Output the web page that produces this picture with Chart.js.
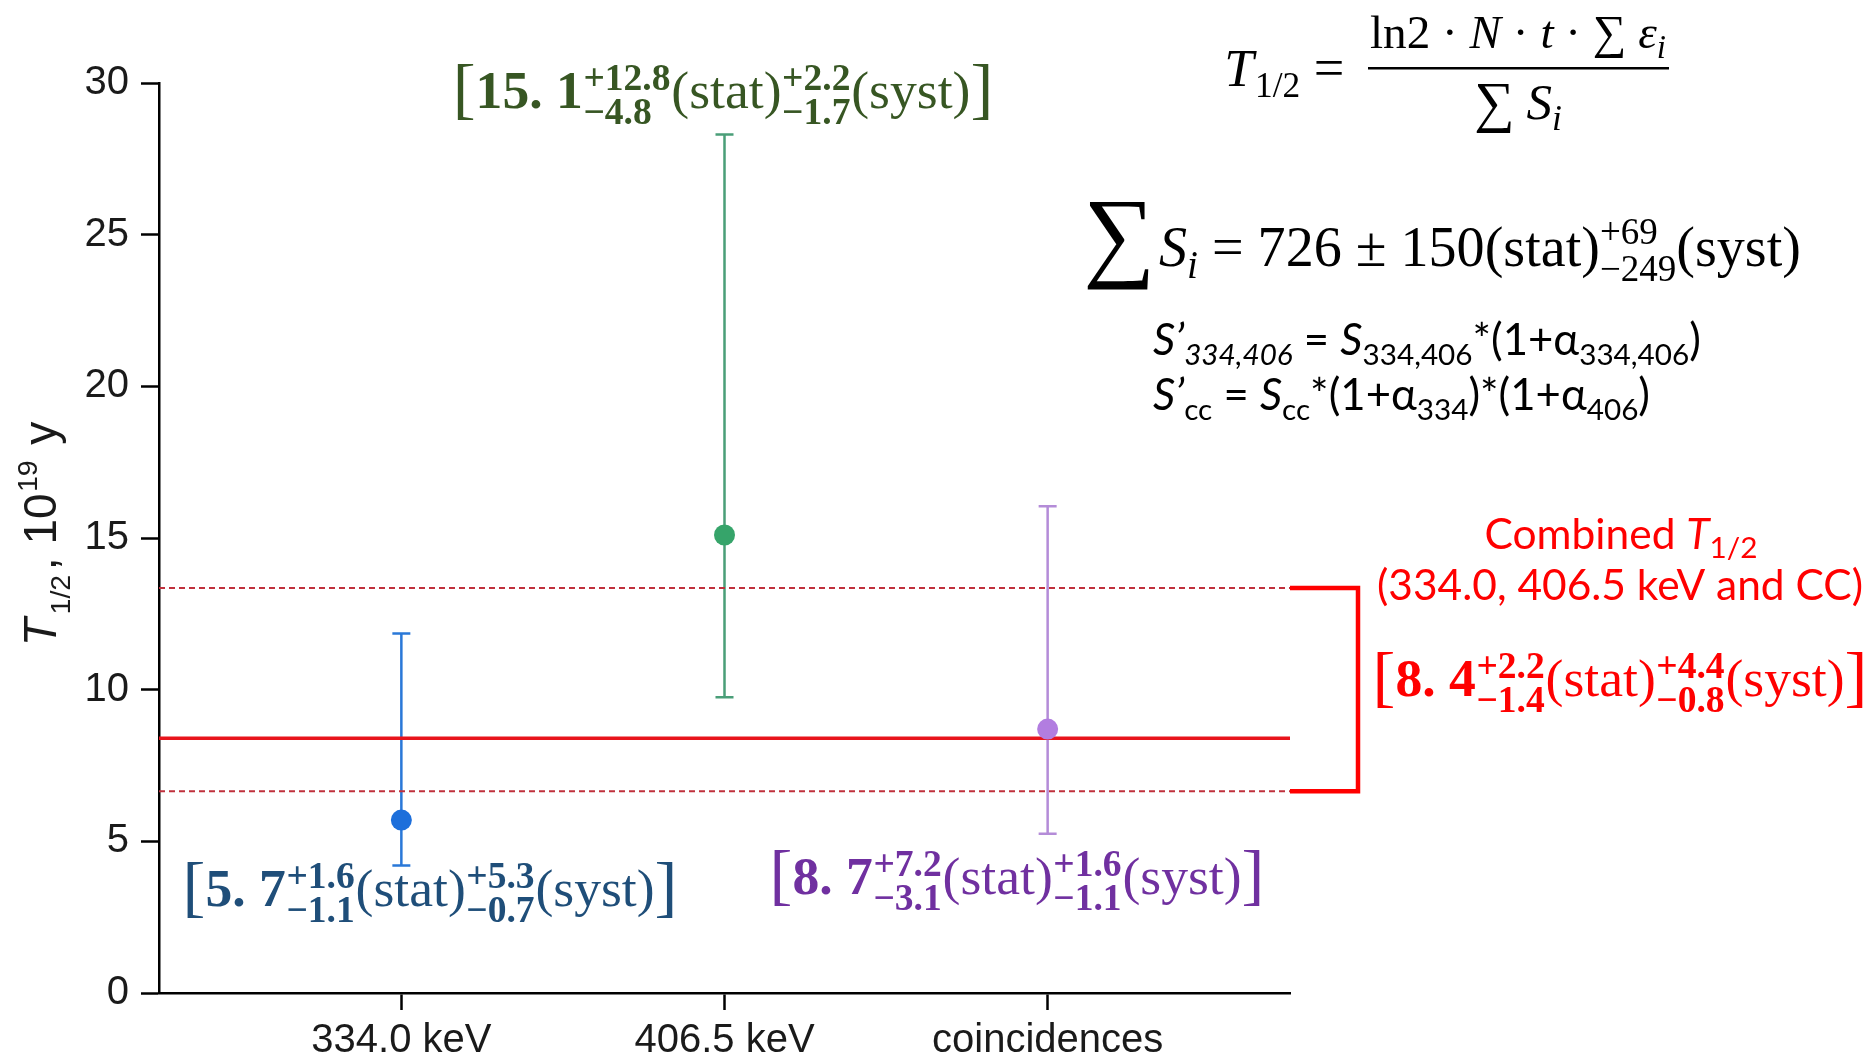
<!DOCTYPE html>
<html>
<head>
<meta charset="utf-8">
<script src="https://cdn.jsdelivr.net/npm/chart.js@4.4.1/dist/chart.umd.min.js"></script>
<style>
  html, body { margin: 0; padding: 0; background: #ffffff; overflow: hidden; }
  #wrap { width: 1873px; height: 1059px; }
</style>
</head>
<body>
<div id="wrap"><canvas id="c" width="1873" height="1059"></canvas></div>
<script>
// Half-life results per detection channel (units of 10^19 y)
const categories = ['334.0 keV', '406.5 keV', 'coincidences'];
const halfLife   = [5.7, 15.1, 8.7];
const errLow     = [4.2, 9.75, 5.25];   // lower end of each error bar
const errHigh    = [11.85, 28.3, 16.05]; // upper end of each error bar
const statPlus   = ['1.6', '12.8', '7.2'];
const statMinus  = ['1.1', '4.8', '3.1'];
const systPlus   = ['5.3', '2.2', '1.6'];
const systMinus  = ['0.7', '1.7', '1.1'];

// Combined result and its band
const combinedValue = [8.4];
const combinedBand  = [6.65, 13.35];
const combinedErr   = ['2.2', '1.4', '4.4', '0.8']; // stat+, stat-, syst+, syst-

const yTicks = [0, 5, 10, 15, 20, 25, 30];

// Styling
const pointColors = ['#1d6fdb', '#36a46a', '#b27de0'];
const barColors   = ['#2a78d8', '#4a9e78', '#b48cd8'];
const labelColors = ['#1f4e79', '#375623', '#7030a0'];
const RED = '#ff0000';
const X_MIN = 0.25, X_MAX = 3.75;

const SERIF = '"Liberation Serif", "DejaVu Serif", serif';
const SANS  = 'Lato, "Noto Sans", "Open Sans", sans-serif';
const ARIAL = '"Liberation Sans", Arial, sans-serif';

// ---- small rich-text helper (sub/superscripts on canvas) ----
function fontOf(size, p) {
  return (p.i ? 'italic ' : '') + (p.b ? 'bold ' : '') + size.toFixed(2) + 'px ' + (p.fam || SERIF);
}
function measureRich(ctx, items, base) {
  let w = 0;
  for (const it of items) {
    ctx.font = fontOf(base * (it.k || 1), it);
    if (it.sup !== undefined || it.sub !== undefined) {
      const a = it.sup ? ctx.measureText(it.sup).width : 0;
      const b = it.sub ? ctx.measureText(it.sub).width : 0;
      it._w = Math.max(a, b);
    } else {
      it._w = ctx.measureText(it.s).width;
    }
    it._w += ((it.gap || 0) + (it.pre || 0)) * base;
    w += it._w;
  }
  return w;
}
function drawRich(ctx, items, x, y, base, align, color) {
  const w = measureRich(ctx, items, base);
  let cx = align === 'center' ? x - w / 2 : align === 'right' ? x - w : x;
  ctx.fillStyle = color;
  ctx.textBaseline = 'alphabetic';
  ctx.textAlign = 'left';
  for (const it of items) {
    ctx.font = fontOf(base * (it.k || 1), it);
    const ox = (it.pre || 0) * base;
    if (it.sup !== undefined || it.sub !== undefined) {
      if (it.sup) ctx.fillText(it.sup, cx + ox, y - (it.up !== undefined ? it.up : 0.42) * base);
      if (it.sub) ctx.fillText(it.sub, cx + ox, y + (it.down !== undefined ? it.down : 0.26) * base);
    } else {
      ctx.fillText(it.s, cx + ox, y + (it.dy || 0) * base);
    }
    cx += it._w;
  }
  return w;
}
function fitSize(ctx, items, width) {
  return 100 * width / measureRich(ctx, items, 100);
}

function valueLabel(value, sp, sm, yp, ym) {
  const scr = { k: 0.7, b: true, up: 0.33, down: 0.3, pre: 0.01, gap: 0.015 };
  const num = value.toFixed(1).replace('.', '. ');
  return [
    { s: '[', k: 1.28, dy: 0.05 },
    { s: num, b: true },
    Object.assign({ sup: '+' + sp, sub: '\u2212' + sm }, scr),
    { s: '(stat)' },
    Object.assign({ sup: '+' + yp, sub: '\u2212' + ym }, scr),
    { s: '(syst)' },
    { s: ']', k: 1.28, dy: 0.05 }
  ];
}

// ---- error bars drawn beneath the markers ----
const errorBars = {
  id: 'errorBars',
  beforeDatasetsDraw(chart) {
    const { ctx, scales: { x, y } } = chart;
    ctx.save();
    ctx.lineWidth = 2.5;
    halfLife.forEach((v, i) => {
      const px = x.getPixelForValue(i + 1);
      const top = y.getPixelForValue(errHigh[i]);
      const bot = y.getPixelForValue(errLow[i]);
      ctx.strokeStyle = barColors[i];
      ctx.beginPath();
      ctx.moveTo(px, top); ctx.lineTo(px, bot);
      ctx.moveTo(px - 9, top); ctx.lineTo(px + 9, top);
      ctx.moveTo(px - 9, bot); ctx.lineTo(px + 9, bot);
      ctx.stroke();
    });
    ctx.restore();
  }
};

// ---- axis title, bracket and text annotations ----
const annotations = {
  id: 'annotations',
  afterDraw(chart) {
    const { ctx, scales: { x, y }, chartArea } = chart;
    ctx.save();

    // y-axis title: T_{1/2}, 10^{19} y
    ctx.save();
    ctx.translate(56, (chartArea.top + chartArea.bottom) / 2 - 4);
    ctx.rotate(-Math.PI / 2);
    drawRich(ctx, [
      { s: 'T', i: true, fam: ARIAL },
      { sub: '1/2', k: 0.62, down: 0.3, fam: ARIAL, pre: 0.08, gap: 0.1 },
      { s: ', 10', fam: ARIAL },
      { sup: '19', k: 0.62, up: 0.42, fam: ARIAL, pre: 0.03, gap: 0.06 },
      { s: ' y', fam: ARIAL }
    ], 0, 0, 46, 'center', '#1a1a1a');
    ctx.restore();

    // bracket joining the band to the combined result
    const yTop = y.getPixelForValue(combinedBand[1]);
    const yBot = y.getPixelForValue(combinedBand[0]);
    const bx = chartArea.right + 68;
    ctx.strokeStyle = RED;
    ctx.lineWidth = 4.5;
    ctx.lineJoin = 'miter';
    ctx.beginPath();
    ctx.moveTo(chartArea.right, yTop);
    ctx.lineTo(bx, yTop);
    ctx.lineTo(bx, yBot);
    ctx.lineTo(chartArea.right, yBot);
    ctx.stroke();

    // value labels for each channel
    const labels = halfLife.map((v, i) => valueLabel(v, statPlus[i], statMinus[i], systPlus[i], systMinus[i]));
    const base = fitSize(ctx, labels[0], 495);
    const pos = [[430, 906], [723, 108], [1017, 894]];
    labels.forEach((items, i) => drawRich(ctx, items, pos[i][0], pos[i][1], base, 'center', labelColors[i]));

    // combined result
    const sansLine = [{ s: '(334.0, 406.5 keV and CC)', fam: SANS }];
    const sBase = fitSize(ctx, sansLine, 486);
    drawRich(ctx, [
      { s: 'Combined ', fam: SANS },
      { s: 'T', i: true, fam: SANS },
      { sub: '1/2', k: 0.7, down: 0.22, fam: SANS }
    ], 1621, 549, sBase, 'center', RED);
    drawRich(ctx, sansLine, 1620, 600, sBase, 'center', RED);
    drawRich(ctx, valueLabel(combinedValue[0], combinedErr[0], combinedErr[1], combinedErr[2], combinedErr[3]),
      1620, 696, base, 'center', RED);

    // half-life formula
    const num = [
      { s: 'ln2 \u00b7 ' }, { s: 'N', i: true }, { s: ' \u00b7 ' }, { s: 't', i: true },
      { s: ' \u00b7 \u2211 ' }, { s: '\u03b5', i: true }, { sub: 'i', i: true, k: 0.7, down: 0.22 }
    ];
    const fBase = fitSize(ctx, num, 296);
    drawRich(ctx, num, 1518, 48, fBase, 'center', '#000');
    drawRich(ctx, [{ s: '\u2211', k: 1.2, dy: 0.04 }, { s: ' ' }, { s: 'S', i: true, k: 1.08 }, { sub: 'i', i: true, k: 0.75, down: 0.24 }],
      1518, 119, fBase, 'center', '#000');
    ctx.fillStyle = '#000';
    ctx.fillRect(1368, 67, 301, 2.5);
    drawRich(ctx, [{ s: 'T', i: true, k: 1.12 }, { sub: '1/2', k: 0.75, down: 0.24, pre: 0.03 }, { s: ' = ', k: 1.15 }],
      1358, 86, fBase, 'right', '#000');

    // sum of signal counts
    ctx.font = '100px ' + SERIF;
    const m = ctx.measureText('\u2211');
    const gh = m.actualBoundingBoxAscent + m.actualBoundingBoxDescent;
    const gs = 100 * 89 / gh;
    ctx.font = gs.toFixed(2) + 'px ' + SERIF;
    const m2 = ctx.measureText('\u2211');
    ctx.fillStyle = '#000';
    ctx.textAlign = 'left';
    ctx.textBaseline = 'alphabetic';
    ctx.fillText('\u2211', 1087 + m2.actualBoundingBoxLeft, 201 + m2.actualBoundingBoxAscent);
    const sumLine = [
      { s: 'S', i: true }, { sub: 'i', i: true, k: 0.7, down: 0.22 },
      { s: ' = 726 \u00b1 150(stat)' },
      { sup: '+69', sub: '\u2212249', k: 0.66, up: 0.4, down: 0.26 },
      { s: '(syst)' }
    ];
    drawRich(ctx, sumLine, 1159, 266, fitSize(ctx, sumLine, 642), 'left', '#000');

    // corrected signal definitions
    const sub = (t, it) => ({ sub: t, k: 0.68, down: 0.22, i: !!it, fam: SANS });
    const line1 = [
      { s: 'S\u2019', i: true, fam: SANS }, sub('334,406', true), { s: ' = ', fam: SANS },
      { s: 'S', i: true, fam: SANS }, sub('334,406'), { s: '*(1+\u03b1', fam: SANS }, sub('334,406'), { s: ')', fam: SANS }
    ];
    const line2 = [
      { s: 'S\u2019', i: true, fam: SANS }, sub('cc'), { s: ' = ', fam: SANS },
      { s: 'S', i: true, fam: SANS }, sub('cc'), { s: '*(1+\u03b1', fam: SANS }, sub('334'),
      { s: ')*(1+\u03b1', fam: SANS }, sub('406'), { s: ')', fam: SANS }
    ];
    const lBase = fitSize(ctx, line1, 548);
    drawRich(ctx, line1, 1153, 355, lBase, 'left', '#000');
    drawRich(ctx, line2, 1153, 410, lBase, 'left', '#000');

    ctx.restore();
  }
};

const hLine = (yv) => [{ x: X_MIN, y: yv }, { x: X_MAX, y: yv }];

new Chart(document.getElementById('c'), {
  type: 'scatter',
  data: {
    datasets: [
      {
        data: halfLife.map((v, i) => ({ x: i + 1, y: v })),
        pointRadius: 10.5,
        pointHoverRadius: 10.5,
        pointBackgroundColor: pointColors,
        pointBorderColor: pointColors,
        pointBorderWidth: 0,
        showLine: false
      },
      {
        type: 'line', data: hLine(combinedValue[0]),
        borderColor: '#e8141c', borderWidth: 3.5, pointRadius: 0, fill: false
      },
      {
        type: 'line', data: hLine(combinedBand[1]),
        borderColor: '#c0303c', borderWidth: 2, borderDash: [6, 4], pointRadius: 0, fill: false
      },
      {
        type: 'line', data: hLine(combinedBand[0]),
        borderColor: '#c0303c', borderWidth: 2, borderDash: [6, 4], pointRadius: 0, fill: false
      }
    ]
  },
  options: {
    responsive: false,
    animation: false,
    devicePixelRatio: 1,
    layout: { padding: { left: 0, top: 83, right: 583, bottom: 0 } },
    plugins: { legend: { display: false }, tooltip: { enabled: false } },
    scales: {
      x: {
        type: 'linear',
        min: X_MIN, max: X_MAX,
        afterBuildTicks: (scale) => { scale.ticks = categories.map((c, i) => ({ value: i + 1 })); },
        afterFit: (scale) => { scale.height = 66; },
        ticks: {
          autoSkip: false, maxRotation: 0, padding: 7,
          color: '#1a1a1a',
          font: { family: ARIAL, size: 40 },
          callback: (v) => categories[Math.round(v) - 1]
        },
        grid: { drawOnChartArea: false, drawTicks: true, tickLength: 17, tickColor: '#000', tickWidth: 2.5 },
        border: { display: true, color: '#000', width: 2.5 }
      },
      y: {
        min: 0, max: 30,
        afterBuildTicks: (scale) => { scale.ticks = yTicks.map(v => ({ value: v })); },
        afterFit: (scale) => { scale.width = 159; },
        ticks: {
          padding: 12, color: '#1a1a1a',
          font: { family: ARIAL, size: 40 }
        },
        grid: { drawOnChartArea: false, drawTicks: true, tickLength: 18, tickColor: '#000', tickWidth: 2.5 },
        border: { display: true, color: '#000', width: 2.5 }
      }
    }
  },
  plugins: [errorBars, annotations]
});
</script>
</body>
</html>
